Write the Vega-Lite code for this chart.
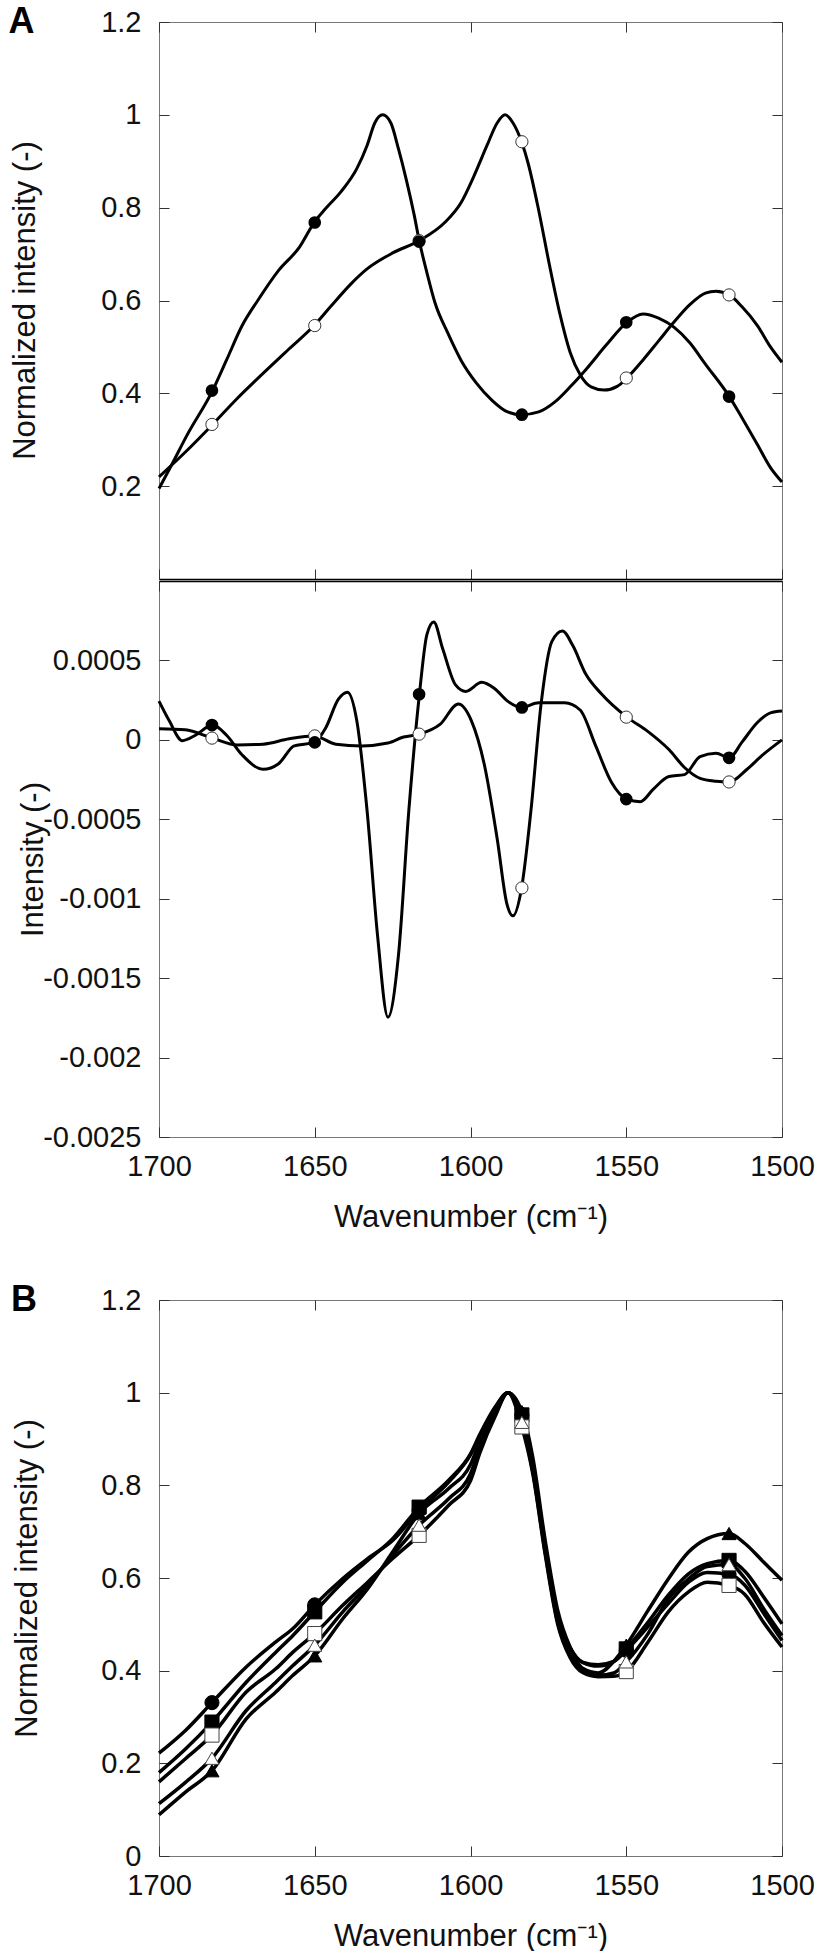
{
  "$schema": "https://vega.github.io/schema/vega-lite/v6.json",
  "padding": {"left": 8, "top": 3, "right": 0, "bottom": 0},
  "config": {
    "font": "Liberation Sans",
    "view": {"stroke": "#777", "strokeWidth": 1},
    "axis": {
      "grid": false, "domain": false, "tickSize": -10, "tickColor": "#333", "tickWidth": 1,
      "labelFont": "Liberation Sans", "labelFontSize": 29, "labelColor": "#111",
      "titleFont": "Liberation Sans", "titleFontSize": 31, "titleFontWeight": "normal", "titleColor": "#111",
      "labelFlush": false, "labelOverlap": false, "labelExpr": "datum.value + ''"
    },
    "axisY": {"labelPadding": 28},
    "axisX": {"labelPadding": 25, "titlePadding": 21},
    "title": {"font": "Liberation Sans", "fontSize": 36, "fontWeight": "bold", "anchor": "start", "frame": "bounds", "baseline": "alphabetic", "offset": -33, "color": "#000"}
  },
  "datasets": {
    "aTop": [
      {"x":1700,"y":0.195,"s":"filled"},{"x":1696,"y":0.245,"s":"filled"},{"x":1691,"y":0.31,"s":"filled"},{"x":1682.8,"y":0.406,"s":"filled"},{"x":1678.3,"y":0.472,"s":"filled"},{"x":1673.3,"y":0.546,"s":"filled"},{"x":1668.3,"y":0.6,"s":"filled"},{"x":1661.6,"y":0.665,"s":"filled"},{"x":1654.9,"y":0.715,"s":"filled"},{"x":1650.2,"y":0.768,"s":"filled"},{"x":1646.5,"y":0.798,"s":"filled"},{"x":1641.5,"y":0.835,"s":"filled"},{"x":1636.5,"y":0.884,"s":"filled"},{"x":1633.2,"y":0.934,"s":"filled"},{"x":1630.7,"y":0.983,"s":"filled"},{"x":1628.2,"y":1.0,"s":"filled"},{"x":1625.6,"y":0.983,"s":"filled"},{"x":1623.1,"y":0.926,"s":"filled"},{"x":1620.6,"y":0.86,"s":"filled"},{"x":1618.1,"y":0.785,"s":"filled"},{"x":1616.4,"y":0.727,"s":"filled"},{"x":1614,"y":0.66,"s":"filled"},{"x":1611.4,"y":0.595,"s":"filled"},{"x":1607.3,"y":0.53,"s":"filled"},{"x":1603.1,"y":0.472,"s":"filled"},{"x":1598.1,"y":0.422,"s":"filled"},{"x":1593.1,"y":0.385,"s":"filled"},{"x":1588.1,"y":0.36,"s":"filled"},{"x":1583.6,"y":0.354,"s":"filled"},{"x":1578.1,"y":0.36,"s":"filled"},{"x":1573,"y":0.381,"s":"filled"},{"x":1568,"y":0.414,"s":"filled"},{"x":1563,"y":0.451,"s":"filled"},{"x":1556.3,"y":0.505,"s":"filled"},{"x":1549.8,"y":0.553,"s":"filled"},{"x":1544.6,"y":0.571,"s":"filled"},{"x":1539.6,"y":0.562,"s":"filled"},{"x":1534.6,"y":0.542,"s":"filled"},{"x":1529.6,"y":0.509,"s":"filled"},{"x":1524.6,"y":0.463,"s":"filled"},{"x":1516.9,"y":0.393,"s":"filled"},{"x":1512.9,"y":0.348,"s":"filled"},{"x":1507.9,"y":0.29,"s":"filled"},{"x":1503.7,"y":0.24,"s":"filled"},{"x":1500,"y":0.209,"s":"filled"},
      {"x":1700,"y":0.22,"s":"open"},{"x":1691.6,"y":0.273,"s":"open"},{"x":1682.8,"y":0.333,"s":"open"},{"x":1674.9,"y":0.389,"s":"open"},{"x":1666.6,"y":0.443,"s":"open"},{"x":1658.2,"y":0.496,"s":"open"},{"x":1650.2,"y":0.546,"s":"open"},{"x":1644.9,"y":0.587,"s":"open"},{"x":1638.2,"y":0.637,"s":"open"},{"x":1633.2,"y":0.668,"s":"open"},{"x":1624.8,"y":0.703,"s":"open"},{"x":1616.4,"y":0.729,"s":"open"},{"x":1608.1,"y":0.769,"s":"open"},{"x":1603.1,"y":0.81,"s":"open"},{"x":1598.9,"y":0.868,"s":"open"},{"x":1594.7,"y":0.934,"s":"open"},{"x":1591.4,"y":0.983,"s":"open"},{"x":1588.9,"y":1.0,"s":"open"},{"x":1586.4,"y":0.983,"s":"open"},{"x":1583.6,"y":0.942,"s":"open"},{"x":1581.4,"y":0.893,"s":"open"},{"x":1578.1,"y":0.794,"s":"open"},{"x":1574.7,"y":0.678,"s":"open"},{"x":1571.3,"y":0.571,"s":"open"},{"x":1568,"y":0.488,"s":"open"},{"x":1564.7,"y":0.439,"s":"open"},{"x":1561.3,"y":0.414,"s":"open"},{"x":1557.1,"y":0.407,"s":"open"},{"x":1552.9,"y":0.415,"s":"open"},{"x":1549.8,"y":0.433,"s":"open"},{"x":1544.6,"y":0.472,"s":"open"},{"x":1539.6,"y":0.513,"s":"open"},{"x":1534.6,"y":0.554,"s":"open"},{"x":1529.6,"y":0.591,"s":"open"},{"x":1524.6,"y":0.616,"s":"open"},{"x":1521.2,"y":0.62,"s":"open"},{"x":1516.9,"y":0.612,"s":"open"},{"x":1512.9,"y":0.587,"s":"open"},{"x":1507.9,"y":0.546,"s":"open"},{"x":1503.7,"y":0.5,"s":"open"},{"x":1500,"y":0.467,"s":"open"}
    ],
    "aTopM": [
      {"x":1683,"y":0.333,"s":"open"},{"x":1650,"y":0.546,"s":"open"},{"x":1616.5,"y":0.729,"s":"open"},{"x":1583.5,"y":0.942,"s":"open"},{"x":1550,"y":0.433,"s":"open"},{"x":1517,"y":0.612,"s":"open"},
      {"x":1683,"y":0.406,"s":"filled"},{"x":1650,"y":0.768,"s":"filled"},{"x":1616.5,"y":0.727,"s":"filled"},{"x":1583.5,"y":0.354,"s":"filled"},{"x":1550,"y":0.553,"s":"filled"},{"x":1517,"y":0.393,"s":"filled"}
    ],
    "aBot": [
      {"x":1700,"y":0.000244,"s":"filled"},{"x":1696.7,"y":0.00012,"s":"filled"},{"x":1692.5,"y":-0.000005,"s":"filled"},{"x":1688.3,"y":0.000029,"s":"filled"},{"x":1682.8,"y":0.000093,"s":"filled"},{"x":1678.3,"y":0.000029,"s":"filled"},{"x":1673.3,"y":-0.000095,"s":"filled"},{"x":1666.6,"y":-0.000185,"s":"filled"},{"x":1661.6,"y":-0.00015,"s":"filled"},{"x":1656.6,"y":-0.000038,"s":"filled"},{"x":1650.2,"y":-0.000016,"s":"filled"},{"x":1646.5,"y":0.000075,"s":"filled"},{"x":1642.4,"y":0.000256,"s":"filled"},{"x":1639.5,"y":0.0003,"s":"filled"},{"x":1636.5,"y":0.00012,"s":"filled"},{"x":1633.2,"y":-0.000446,"s":"filled"},{"x":1629.8,"y":-0.00124,"s":"filled"},{"x":1626.5,"y":-0.001746,"s":"filled"},{"x":1623.1,"y":-0.00135,"s":"filled"},{"x":1619.8,"y":-0.000446,"s":"filled"},{"x":1616.4,"y":0.000287,"s":"filled"},{"x":1614,"y":0.000663,"s":"filled"},{"x":1611.8,"y":0.000742,"s":"filled"},{"x":1608.9,"y":0.000572,"s":"filled"},{"x":1604.8,"y":0.000346,"s":"filled"},{"x":1601.5,"y":0.000305,"s":"filled"},{"x":1596.4,"y":0.000362,"s":"filled"},{"x":1592.3,"y":0.000323,"s":"filled"},{"x":1588.1,"y":0.000244,"s":"filled"},{"x":1583.6,"y":0.000204,"s":"filled"},{"x":1578.1,"y":0.000233,"s":"filled"},{"x":1569.8,"y":0.000233,"s":"filled"},{"x":1564.8,"y":0.000188,"s":"filled"},{"x":1559.8,"y":-0.000038,"s":"filled"},{"x":1554.8,"y":-0.000265,"s":"filled"},{"x":1549.8,"y":-0.000373,"s":"filled"},{"x":1545.5,"y":-0.000389,"s":"filled"},{"x":1541.3,"y":-0.00031,"s":"filled"},{"x":1536.3,"y":-0.000231,"s":"filled"},{"x":1531.3,"y":-0.000219,"s":"filled"},{"x":1526.3,"y":-0.000106,"s":"filled"},{"x":1521.2,"y":-0.000084,"s":"filled"},{"x":1516.9,"y":-0.000113,"s":"filled"},{"x":1512.9,"y":-0.000016,"s":"filled"},{"x":1507.9,"y":0.000109,"s":"filled"},{"x":1503.7,"y":0.00017,"s":"filled"},{"x":1500,"y":0.000181,"s":"filled"},
      {"x":1700,"y":0.00007,"s":"open"},{"x":1691.6,"y":0.000063,"s":"open"},{"x":1682.8,"y":0.000011,"s":"open"},{"x":1674.9,"y":-0.000032,"s":"open"},{"x":1666.6,"y":-0.000027,"s":"open"},{"x":1658.2,"y":0.000007,"s":"open"},{"x":1650.2,"y":0.000025,"s":"open"},{"x":1643.2,"y":-0.000027,"s":"open"},{"x":1634.9,"y":-0.000038,"s":"open"},{"x":1626.5,"y":-0.00002,"s":"open"},{"x":1621.5,"y":0.000018,"s":"open"},{"x":1616.4,"y":0.000036,"s":"open"},{"x":1609.8,"y":0.000097,"s":"open"},{"x":1603.9,"y":0.000226,"s":"open"},{"x":1599.7,"y":0.00012,"s":"open"},{"x":1595.6,"y":-0.000152,"s":"open"},{"x":1591.4,"y":-0.000627,"s":"open"},{"x":1588.3,"y":-0.001034,"s":"open"},{"x":1586.4,"y":-0.001108,"s":"open"},{"x":1583.6,"y":-0.000932,"s":"open"},{"x":1580.6,"y":-0.000446,"s":"open"},{"x":1577.3,"y":0.000233,"s":"open"},{"x":1573.9,"y":0.000618,"s":"open"},{"x":1570.5,"y":0.000685,"s":"open"},{"x":1567.2,"y":0.000595,"s":"open"},{"x":1563,"y":0.000414,"s":"open"},{"x":1558,"y":0.00029,"s":"open"},{"x":1549.8,"y":0.000143,"s":"open"},{"x":1543,"y":0.000052,"s":"open"},{"x":1536.3,"y":-0.000061,"s":"open"},{"x":1531.3,"y":-0.000174,"s":"open"},{"x":1526.3,"y":-0.000242,"s":"open"},{"x":1521.2,"y":-0.00026,"s":"open"},{"x":1516.9,"y":-0.000265,"s":"open"},{"x":1511.2,"y":-0.000185,"s":"open"},{"x":1506.2,"y":-0.000095,"s":"open"},{"x":1500,"y":0.0,"s":"open"}
    ],
    "aBotM": [
      {"x":1683,"y":0.000011,"s":"open"},{"x":1650,"y":0.000025,"s":"open"},{"x":1616.5,"y":0.000036,"s":"open"},{"x":1583.5,"y":-0.000932,"s":"open"},{"x":1550,"y":0.000143,"s":"open"},{"x":1517,"y":-0.000265,"s":"open"},
      {"x":1683,"y":0.000093,"s":"filled"},{"x":1650,"y":-0.000016,"s":"filled"},{"x":1616.5,"y":0.000287,"s":"filled"},{"x":1583.5,"y":0.000204,"s":"filled"},{"x":1550,"y":-0.000373,"s":"filled"},{"x":1517,"y":-0.000113,"s":"filled"}
    ],
    "bLines": [
      {"x":1700,"y":0.222,"s":"FC"},{"x":1691.5,"y":0.271,"s":"FC"},{"x":1683,"y":0.331,"s":"FC"},{"x":1672,"y":0.408,"s":"FC"},{"x":1662.5,"y":0.462,"s":"FC"},{"x":1657,"y":0.491,"s":"FC"},{"x":1650,"y":0.542,"s":"FC"},{"x":1641,"y":0.599,"s":"FC"},{"x":1633,"y":0.642,"s":"FC"},{"x":1625,"y":0.681,"s":"FC"},{"x":1616.5,"y":0.746,"s":"FC"},{"x":1607,"y":0.807,"s":"FC"},{"x":1600,"y":0.866,"s":"FC"},{"x":1597,"y":0.905,"s":"FC"},{"x":1592,"y":0.968,"s":"FC"},{"x":1588,"y":1.0,"s":"FC"},{"x":1583.5,"y":0.952,"s":"FC"},{"x":1580,"y":0.84,"s":"FC"},{"x":1576,"y":0.665,"s":"FC"},{"x":1572,"y":0.515,"s":"FC"},{"x":1568,"y":0.448,"s":"FC"},{"x":1564,"y":0.418,"s":"FC"},{"x":1559,"y":0.413,"s":"FC"},{"x":1554,"y":0.42,"s":"FC"},{"x":1550,"y":0.444,"s":"FC"},{"x":1543,"y":0.495,"s":"FC"},{"x":1536.5,"y":0.545,"s":"FC"},{"x":1530,"y":0.591,"s":"FC"},{"x":1524,"y":0.612,"s":"FC"},{"x":1517,"y":0.608,"s":"FC"},{"x":1512,"y":0.585,"s":"FC"},{"x":1506,"y":0.525,"s":"FC"},{"x":1500,"y":0.465,"s":"FC"},
      {"x":1700,"y":0.18,"s":"FS"},{"x":1691.5,"y":0.231,"s":"FS"},{"x":1683,"y":0.289,"s":"FS"},{"x":1672,"y":0.375,"s":"FS"},{"x":1662.5,"y":0.44,"s":"FS"},{"x":1657,"y":0.476,"s":"FS"},{"x":1650,"y":0.527,"s":"FS"},{"x":1641,"y":0.591,"s":"FS"},{"x":1633,"y":0.638,"s":"FS"},{"x":1625,"y":0.685,"s":"FS"},{"x":1616.5,"y":0.753,"s":"FS"},{"x":1607,"y":0.811,"s":"FS"},{"x":1600,"y":0.868,"s":"FS"},{"x":1597,"y":0.91,"s":"FS"},{"x":1592,"y":0.97,"s":"FS"},{"x":1588,"y":1.0,"s":"FS"},{"x":1583.5,"y":0.952,"s":"FS"},{"x":1580,"y":0.845,"s":"FS"},{"x":1576,"y":0.67,"s":"FS"},{"x":1572,"y":0.52,"s":"FS"},{"x":1568,"y":0.45,"s":"FS"},{"x":1564,"y":0.418,"s":"FS"},{"x":1559,"y":0.41,"s":"FS"},{"x":1554,"y":0.42,"s":"FS"},{"x":1550,"y":0.447,"s":"FS"},{"x":1543,"y":0.505,"s":"FS"},{"x":1536.5,"y":0.563,"s":"FS"},{"x":1530,"y":0.609,"s":"FS"},{"x":1524,"y":0.631,"s":"FS"},{"x":1517,"y":0.638,"s":"FS"},{"x":1512,"y":0.615,"s":"FS"},{"x":1506,"y":0.56,"s":"FS"},{"x":1500,"y":0.501,"s":"FS"},
      {"x":1700,"y":0.16,"s":"OS"},{"x":1691.5,"y":0.21,"s":"OS"},{"x":1683,"y":0.261,"s":"OS"},{"x":1672,"y":0.354,"s":"OS"},{"x":1662.5,"y":0.404,"s":"OS"},{"x":1657,"y":0.44,"s":"OS"},{"x":1650,"y":0.48,"s":"OS"},{"x":1641,"y":0.541,"s":"OS"},{"x":1633,"y":0.591,"s":"OS"},{"x":1625,"y":0.642,"s":"OS"},{"x":1616.5,"y":0.692,"s":"OS"},{"x":1607,"y":0.757,"s":"OS"},{"x":1600,"y":0.81,"s":"OS"},{"x":1597,"y":0.87,"s":"OS"},{"x":1592,"y":0.95,"s":"OS"},{"x":1588,"y":1.0,"s":"OS"},{"x":1583.5,"y":0.926,"s":"OS"},{"x":1580,"y":0.825,"s":"OS"},{"x":1576,"y":0.65,"s":"OS"},{"x":1572,"y":0.5,"s":"OS"},{"x":1568,"y":0.428,"s":"OS"},{"x":1564,"y":0.396,"s":"OS"},{"x":1559,"y":0.387,"s":"OS"},{"x":1554,"y":0.388,"s":"OS"},{"x":1550,"y":0.398,"s":"OS"},{"x":1543,"y":0.462,"s":"OS"},{"x":1536.5,"y":0.527,"s":"OS"},{"x":1530,"y":0.57,"s":"OS"},{"x":1524,"y":0.591,"s":"OS"},{"x":1517,"y":0.584,"s":"OS"},{"x":1512,"y":0.565,"s":"OS"},{"x":1506,"y":0.505,"s":"OS"},{"x":1500,"y":0.451,"s":"OS"},
      {"x":1700,"y":0.113,"s":"OT"},{"x":1691.5,"y":0.159,"s":"OT"},{"x":1683,"y":0.211,"s":"OT"},{"x":1672,"y":0.314,"s":"OT"},{"x":1662.5,"y":0.375,"s":"OT"},{"x":1657,"y":0.411,"s":"OT"},{"x":1650,"y":0.455,"s":"OT"},{"x":1641,"y":0.527,"s":"OT"},{"x":1633,"y":0.584,"s":"OT"},{"x":1625,"y":0.649,"s":"OT"},{"x":1616.5,"y":0.714,"s":"OT"},{"x":1607,"y":0.771,"s":"OT"},{"x":1600,"y":0.825,"s":"OT"},{"x":1597,"y":0.88,"s":"OT"},{"x":1592,"y":0.955,"s":"OT"},{"x":1588,"y":1.0,"s":"OT"},{"x":1583.5,"y":0.936,"s":"OT"},{"x":1580,"y":0.83,"s":"OT"},{"x":1576,"y":0.655,"s":"OT"},{"x":1572,"y":0.505,"s":"OT"},{"x":1568,"y":0.433,"s":"OT"},{"x":1564,"y":0.4,"s":"OT"},{"x":1559,"y":0.39,"s":"OT"},{"x":1554,"y":0.395,"s":"OT"},{"x":1550,"y":0.419,"s":"OT"},{"x":1543,"y":0.48,"s":"OT"},{"x":1536.5,"y":0.555,"s":"OT"},{"x":1530,"y":0.598,"s":"OT"},{"x":1524,"y":0.625,"s":"OT"},{"x":1517,"y":0.629,"s":"OT"},{"x":1512,"y":0.6,"s":"OT"},{"x":1506,"y":0.535,"s":"OT"},{"x":1500,"y":0.476,"s":"OT"},
      {"x":1700,"y":0.089,"s":"FT"},{"x":1691.5,"y":0.138,"s":"FT"},{"x":1683,"y":0.184,"s":"FT"},{"x":1672,"y":0.296,"s":"FT"},{"x":1662.5,"y":0.354,"s":"FT"},{"x":1657,"y":0.39,"s":"FT"},{"x":1650,"y":0.432,"s":"FT"},{"x":1641,"y":0.512,"s":"FT"},{"x":1633,"y":0.577,"s":"FT"},{"x":1625,"y":0.656,"s":"FT"},{"x":1616.5,"y":0.739,"s":"FT"},{"x":1607,"y":0.793,"s":"FT"},{"x":1600,"y":0.845,"s":"FT"},{"x":1597,"y":0.895,"s":"FT"},{"x":1592,"y":0.96,"s":"FT"},{"x":1588,"y":1.0,"s":"FT"},{"x":1583.5,"y":0.959,"s":"FT"},{"x":1580,"y":0.86,"s":"FT"},{"x":1576,"y":0.68,"s":"FT"},{"x":1572,"y":0.53,"s":"FT"},{"x":1568,"y":0.45,"s":"FT"},{"x":1564,"y":0.405,"s":"FT"},{"x":1559,"y":0.395,"s":"FT"},{"x":1554,"y":0.42,"s":"FT"},{"x":1550,"y":0.455,"s":"FT"},{"x":1543,"y":0.53,"s":"FT"},{"x":1536.5,"y":0.598,"s":"FT"},{"x":1530,"y":0.656,"s":"FT"},{"x":1524,"y":0.685,"s":"FT"},{"x":1517,"y":0.696,"s":"FT"},{"x":1512,"y":0.675,"s":"FT"},{"x":1506,"y":0.635,"s":"FT"},{"x":1500,"y":0.595,"s":"FT"}
    ],
    "bMarks": [
      {"x":1683,"y":0.331,"s":"FC"},{"x":1650,"y":0.542,"s":"FC"},{"x":1616.5,"y":0.746,"s":"FC"},{"x":1583.5,"y":0.952,"s":"FC"},{"x":1550,"y":0.444,"s":"FC"},{"x":1517,"y":0.608,"s":"FC"},
      {"x":1683,"y":0.184,"s":"FT"},{"x":1650,"y":0.432,"s":"FT"},{"x":1616.5,"y":0.739,"s":"FT"},{"x":1583.5,"y":0.959,"s":"FT"},{"x":1550,"y":0.455,"s":"FT"},{"x":1517,"y":0.696,"s":"FT"},
      {"x":1683,"y":0.289,"s":"FS"},{"x":1650,"y":0.527,"s":"FS"},{"x":1616.5,"y":0.753,"s":"FS"},{"x":1583.5,"y":0.952,"s":"FS"},{"x":1550,"y":0.447,"s":"FS"},{"x":1517,"y":0.638,"s":"FS"},
      {"x":1683,"y":0.261,"s":"OS"},{"x":1650,"y":0.48,"s":"OS"},{"x":1616.5,"y":0.692,"s":"OS"},{"x":1583.5,"y":0.926,"s":"OS"},{"x":1550,"y":0.398,"s":"OS"},{"x":1517,"y":0.584,"s":"OS"},
      {"x":1683,"y":0.211,"s":"OT"},{"x":1650,"y":0.455,"s":"OT"},{"x":1616.5,"y":0.714,"s":"OT"},{"x":1583.5,"y":0.936,"s":"OT"},{"x":1550,"y":0.419,"s":"OT"},{"x":1517,"y":0.629,"s":"OT"}
    ]
  },
  "spacing": 48,
  "vconcat": [
    {
      "title": {"text": "A"},
      "spacing": 0,
      "vconcat": [
        {
          "width": 623, "height": 557,
          "layer": [
            {
              "data": {"name": "aTop"},
              "mark": {"type": "line", "interpolate": "monotone", "color": "black", "strokeWidth": 3},
              "encoding": {
                "x": {"field": "x", "type": "quantitative", "scale": {"domain": [1500, 1700], "reverse": true, "nice": false, "zero": false},
                      "axis": {"orient": "bottom", "values": [1700, 1650, 1600, 1550, 1500], "labels": false, "title": null, "domain": true, "domainColor": "#000", "domainWidth": 1.5}},
                "y": {"field": "y", "type": "quantitative", "scale": {"domain": [0, 1.2], "nice": false, "zero": false},
                      "axis": {"orient": "left", "values": [0.2, 0.4, 0.6, 0.8, 1, 1.2], "title": "Normalized intensity (-)", "titleX": -118, "titleY": 278}},
                "detail": {"field": "s"}
              }
            },
            {
              "data": {"name": "aTopM"},
              "transform": [{"filter": "datum.s == 'open'"}],
              "mark": {"type": "point", "shape": "circle", "filled": true, "fill": "white", "stroke": "#333", "strokeWidth": 1, "size": 150, "opacity": 1},
              "encoding": {
                "x": {"field": "x", "type": "quantitative", "scale": {"domain": [1500, 1700], "reverse": true, "nice": false, "zero": false},
                      "axis": {"orient": "top", "values": [1700, 1650, 1600, 1550, 1500], "labels": false, "title": null}},
                "y": {"field": "y", "type": "quantitative", "scale": {"domain": [0, 1.2], "nice": false, "zero": false},
                      "axis": {"orient": "right", "values": [0.2, 0.4, 0.6, 0.8, 1, 1.2], "labels": false, "title": null}}
              }
            },
            {
              "data": {"name": "aTopM"},
              "transform": [{"filter": "datum.s == 'filled'"}],
              "mark": {"type": "point", "shape": "circle", "filled": true, "fill": "black", "strokeWidth": 0, "size": 160, "opacity": 1},
              "encoding": {
                "x": {"field": "x", "type": "quantitative", "scale": {"domain": [1500, 1700], "reverse": true, "nice": false, "zero": false}, "axis": null},
                "y": {"field": "y", "type": "quantitative", "scale": {"domain": [0, 1.2], "nice": false, "zero": false}, "axis": null}
              }
            }
          ],
          "resolve": {"axis": {"x": "independent", "y": "independent"}}
        },
        {
          "width": 623, "height": 556,
          "layer": [
            {
              "data": {"name": "aBot"},
              "mark": {"type": "line", "interpolate": "monotone", "color": "black", "strokeWidth": 3},
              "encoding": {
                "x": {"field": "x", "type": "quantitative", "scale": {"domain": [1500, 1700], "reverse": true, "nice": false, "zero": false},
                      "axis": {"orient": "bottom", "values": [1700, 1650, 1600, 1550, 1500], "title": "Wavenumber (cm⁻¹)"}},
                "y": {"field": "y", "type": "quantitative", "scale": {"domain": [-0.0025, 0.001], "nice": false, "zero": false},
                      "axis": {"orient": "left", "values": [0.0005, 0, -0.0005, -0.001, -0.0015, -0.002, -0.0025], "title": "Intensity (-)", "titleX": -110, "titleY": 278}},
                "detail": {"field": "s"}
              }
            },
            {
              "data": {"name": "aBotM"},
              "transform": [{"filter": "datum.s == 'open'"}],
              "mark": {"type": "point", "shape": "circle", "filled": true, "fill": "white", "stroke": "#333", "strokeWidth": 1, "size": 150, "opacity": 1},
              "encoding": {
                "x": {"field": "x", "type": "quantitative", "scale": {"domain": [1500, 1700], "reverse": true, "nice": false, "zero": false},
                      "axis": {"orient": "top", "values": [1700, 1650, 1600, 1550, 1500], "labels": false, "title": null, "domain": true, "domainColor": "#000", "domainWidth": 1.5}},
                "y": {"field": "y", "type": "quantitative", "scale": {"domain": [-0.0025, 0.001], "nice": false, "zero": false},
                      "axis": {"orient": "right", "values": [0.0005, 0, -0.0005, -0.001, -0.0015, -0.002, -0.0025], "labels": false, "title": null}}
              }
            },
            {
              "data": {"name": "aBotM"},
              "transform": [{"filter": "datum.s == 'filled'"}],
              "mark": {"type": "point", "shape": "circle", "filled": true, "fill": "black", "strokeWidth": 0, "size": 160, "opacity": 1},
              "encoding": {
                "x": {"field": "x", "type": "quantitative", "scale": {"domain": [1500, 1700], "reverse": true, "nice": false, "zero": false}, "axis": null},
                "y": {"field": "y", "type": "quantitative", "scale": {"domain": [-0.0025, 0.001], "nice": false, "zero": false}, "axis": null}
              }
            }
          ],
          "resolve": {"axis": {"x": "independent", "y": "independent"}}
        }
      ]
    },
    {
      "title": {"text": "B"},
      "width": 623, "height": 556,
      "layer": [
        {
          "data": {"name": "bLines"},
          "mark": {"type": "line", "interpolate": "monotone", "color": "black", "strokeWidth": 3.5},
          "encoding": {
            "x": {"field": "x", "type": "quantitative", "scale": {"domain": [1500, 1700], "reverse": true, "nice": false, "zero": false},
                  "axis": {"orient": "bottom", "values": [1700, 1650, 1600, 1550, 1500], "title": "Wavenumber (cm⁻¹)"}},
            "y": {"field": "y", "type": "quantitative", "scale": {"domain": [0, 1.2], "nice": false, "zero": false},
                  "axis": {"orient": "left", "values": [0, 0.2, 0.4, 0.6, 0.8, 1, 1.2], "title": "Normalized intensity (-)", "titleX": -116, "titleY": 278}},
            "detail": {"field": "s"}
          }
        },
        {
          "data": {"name": "bMarks"},
          "mark": {"type": "point", "filled": true, "size": 200, "strokeWidth": 1, "opacity": 1},
          "encoding": {
            "x": {"field": "x", "type": "quantitative", "scale": {"domain": [1500, 1700], "reverse": true, "nice": false, "zero": false},
                  "axis": {"orient": "top", "values": [1700, 1650, 1600, 1550, 1500], "labels": false, "title": null}},
            "y": {"field": "y", "type": "quantitative", "scale": {"domain": [0, 1.2], "nice": false, "zero": false},
                  "axis": {"orient": "right", "values": [0, 0.2, 0.4, 0.6, 0.8, 1, 1.2], "labels": false, "title": null}},
            "shape": {"field": "s", "type": "nominal", "scale": {"domain": ["FC", "FS", "OS", "OT", "FT"], "range": ["circle", "square", "square", "triangle-up", "triangle-up"]}, "legend": null},
            "fill": {"field": "s", "type": "nominal", "scale": {"domain": ["FC", "FS", "OS", "OT", "FT"], "range": ["#000", "#000", "#fff", "#fff", "#000"]}, "legend": null},
            "stroke": {"field": "s", "type": "nominal", "scale": {"domain": ["FC", "FS", "OS", "OT", "FT"], "range": ["#000", "#000", "#444", "#444", "#000"]}, "legend": null}
          }
        }
      ],
      "resolve": {"axis": {"x": "independent", "y": "independent"}}
    }
  ]
}
